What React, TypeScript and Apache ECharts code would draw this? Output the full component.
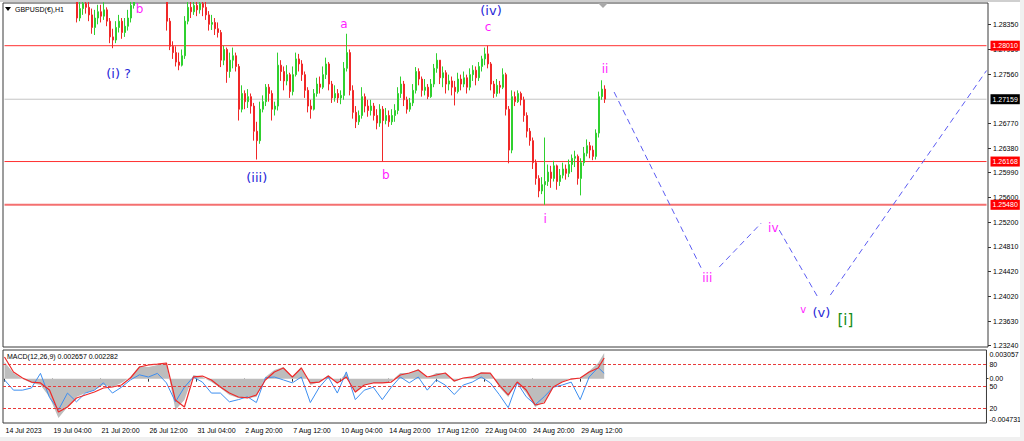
import React, { useEffect, useRef } from "react";
import * as echarts from "echarts";

// ---------- data ----------
const firstOpen = 1.31;
const closes = [
  1.3110,1.3125,1.3095,1.3085,1.3070,1.3062,1.3080,1.3098,1.3120,1.3135,
  1.3112,1.3085,1.3045,1.3012,1.3030,1.3040,1.3000,1.2950,1.2935,1.2942,
  1.2925,1.2905,1.2892,1.2880,1.2845,1.2860,1.2868,1.2862,1.2850,1.2830,
  1.2845,1.2855,1.2848,1.2858,1.2840,1.2815,1.2810,1.2830,1.2840,1.2822,
  1.2832,1.2845,1.2865,1.2890,1.2905,1.2920,1.2900,1.2912,1.2935,1.2950,
  1.2972,1.2962,1.2945,1.2930,1.2840,1.2800,1.2790,1.2775,1.2770,1.2785,
  1.2840,1.2862,1.2855,1.2865,1.2858,1.2868,1.2862,1.2850,1.2835,1.2838,
  1.2828,1.2822,1.2778,1.2795,1.2760,1.2778,1.2785,1.2768,1.2700,1.2725,
  1.2712,1.2720,1.2705,1.2665,1.2650,1.2700,1.2712,1.2735,1.2725,1.2700,
  1.2705,1.2770,1.2760,1.2745,1.2755,1.2728,1.2755,1.2780,1.2772,1.2755,
  1.2730,1.2705,1.2700,1.2725,1.2740,1.2735,1.2755,1.2772,1.2740,1.2718,
  1.2725,1.2718,1.2722,1.2765,1.2790,1.2730,1.2695,1.2680,1.2690,1.2720,
  1.2705,1.2698,1.2705,1.2690,1.2678,1.2700,1.2682,1.2690,1.2680,1.2690,
  1.2698,1.2725,1.2740,1.2715,1.2700,1.2710,1.2730,1.2760,1.2748,1.2730,
  1.2735,1.2720,1.2740,1.2765,1.2778,1.2750,1.2758,1.2740,1.2745,1.2735,
  1.2728,1.2748,1.2740,1.2750,1.2735,1.2755,1.2762,1.2750,1.2768,1.2780,
  1.2788,1.2772,1.2740,1.2725,1.2738,1.2735,1.2755,1.2700,1.2635,1.2720,
  1.2712,1.2725,1.2715,1.2690,1.2665,1.2650,1.2615,1.2590,1.2570,1.2580,
  1.2585,1.2600,1.2590,1.2610,1.2585,1.2595,1.2605,1.2598,1.2612,1.2622,
  1.2625,1.2590,1.2615,1.2630,1.2642,1.2635,1.2625,1.2662,1.2720,1.2732,
  1.2716,
];
const highs = [
  1.3125,1.3135,1.3128,1.3100,1.3090,1.3078,1.3088,1.3105,1.3128,1.3142,
  1.3138,1.3115,1.3090,1.3050,1.3040,1.3052,1.3045,1.3005,1.2960,1.2955,
  1.2948,1.2930,1.2910,1.2898,1.2882,1.2875,1.2885,1.2880,1.2872,1.2860,
  1.2858,1.2866,1.2866,1.2870,1.2862,1.2845,1.2828,1.2840,1.2850,1.2845,
  1.2845,1.2858,1.2875,1.2905,1.2918,1.2932,1.2925,1.2920,1.2945,1.2962,
  1.2985,1.2980,1.2968,1.2950,1.2935,1.2845,1.2808,1.2800,1.2790,1.2795,
  1.2848,1.2880,1.2878,1.2885,1.2880,1.2885,1.2882,1.2878,1.2856,1.2850,
  1.2845,1.2838,1.2826,1.2801,1.2798,1.2790,1.2798,1.2790,1.2772,1.2738,
  1.2730,1.2732,1.2725,1.2710,1.2680,1.2712,1.2722,1.2740,1.2740,1.2730,
  1.2712,1.2790,1.2778,1.2768,1.2770,1.2758,1.2768,1.2790,1.2788,1.2778,
  1.2760,1.2735,1.2715,1.2732,1.2750,1.2752,1.2768,1.2782,1.2775,1.2745,
  1.2738,1.2732,1.2730,1.2775,1.2820,1.2795,1.2738,1.2705,1.2698,1.2735,
  1.2725,1.2715,1.2715,1.2710,1.2700,1.2708,1.2705,1.2702,1.2698,1.2700,
  1.2708,1.2735,1.2752,1.2745,1.2720,1.2718,1.2740,1.2767,1.2765,1.2752,
  1.2748,1.2740,1.2748,1.2772,1.2789,1.2778,1.2768,1.2762,1.2755,1.2752,
  1.2745,1.2758,1.2755,1.2760,1.2755,1.2765,1.2770,1.2768,1.2775,1.2785,
  1.2798,1.2801,1.2775,1.2745,1.2748,1.2745,1.2765,1.2758,1.2705,1.2730,
  1.2728,1.2730,1.2728,1.2720,1.2695,1.2670,1.2655,1.2620,1.2595,1.2592,
  1.2655,1.2612,1.2610,1.2618,1.2612,1.2605,1.2615,1.2612,1.2620,1.2628,
  1.2634,1.2628,1.2622,1.2640,1.2652,1.2648,1.2642,1.2668,1.2728,1.2746,
  1.2738,
];
const lows = [
  1.3095,1.3102,1.3088,1.3075,1.3060,1.3050,1.3058,1.3075,1.3092,1.3115,
  1.3105,1.3078,1.3040,1.3002,1.3005,1.3025,1.2990,1.2940,1.2915,1.2925,
  1.2912,1.2895,1.2878,1.2872,1.2838,1.2840,1.2850,1.2852,1.2840,1.2820,
  1.2818,1.2835,1.2838,1.2842,1.2832,1.2805,1.2797,1.2805,1.2822,1.2812,
  1.2815,1.2825,1.2838,1.2860,1.2885,1.2898,1.2892,1.2890,1.2905,1.2925,
  1.2940,1.2950,1.2935,1.2920,1.2825,1.2794,1.2780,1.2768,1.2762,1.2768,
  1.2780,1.2835,1.2845,1.2850,1.2848,1.2852,1.2848,1.2842,1.2825,1.2826,
  1.2818,1.2814,1.2767,1.2770,1.2742,1.2750,1.2765,1.2760,1.2682,1.2695,
  1.2700,1.2702,1.2693,1.2650,1.2620,1.2645,1.2695,1.2705,1.2712,1.2682,
  1.2690,1.2698,1.2745,1.2730,1.2738,1.2718,1.2722,1.2752,1.2760,1.2745,
  1.2718,1.2695,1.2685,1.2698,1.2720,1.2725,1.2732,1.2748,1.2730,1.2710,
  1.2712,1.2710,1.2708,1.2715,1.2760,1.2722,1.2685,1.2670,1.2675,1.2685,
  1.2695,1.2688,1.2690,1.2682,1.2668,1.2672,1.2617,1.2676,1.2672,1.2675,
  1.2680,1.2692,1.2718,1.2705,1.2693,1.2696,1.2705,1.2725,1.2738,1.2720,
  1.2722,1.2716,1.2718,1.2735,1.2758,1.2740,1.2735,1.2725,1.2730,1.2722,
  1.2706,1.2725,1.2730,1.2735,1.2725,1.2730,1.2745,1.2738,1.2745,1.2760,
  1.2770,1.2765,1.2730,1.2718,1.2720,1.2725,1.2732,1.2690,1.2614,1.2630,
  1.2705,1.2710,1.2706,1.2680,1.2655,1.2642,1.2605,1.2580,1.2560,1.2565,
  1.2548,1.2578,1.2575,1.2585,1.2572,1.2578,1.2590,1.2588,1.2592,1.2600,
  1.2608,1.2580,1.2563,1.2610,1.2625,1.2622,1.2619,1.2620,1.2655,1.2715,
  1.2710,
];

const dateTicks = [
  "14 Jul 2023", "19 Jul 04:00", "21 Jul 20:00", "26 Jul 12:00", "31 Jul 04:00",
  "2 Aug 20:00", "7 Aug 12:00", "10 Aug 04:00", "14 Aug 20:00", "17 Aug 12:00",
  "22 Aug 04:00", "24 Aug 20:00", "29 Aug 12:00",
];
const BARS_PER_TICK = 16;
const TOTAL_SLOTS = 328;

const priceTicks = [1.2835, 1.2795, 1.2756, 1.2677, 1.2638, 1.2599, 1.256, 1.252, 1.2481, 1.2442, 1.2402, 1.2363, 1.2324];
const PRICE_MIN = 1.23219;
const PRICE_MAX = 1.28689;
const levelPrices = [1.2801, 1.26168, 1.2548];
const lastPrice = 1.27159;

const projIdx = [203, 232, 238, 252, 258, 271, 275, 327];
const projPrice = [1.27273, 1.24474, 1.2449, 1.2519, 1.25078, 1.23997, 1.24045, 1.27614];

const waveTexts = ["b", "(i) ?", "a", "(iii)", "b", "(iv)", "c", "i", "ii", "iii", "iv", "v", "(v)", "[i]"];
const waveIdx = [45, 38, 113, 84, 127, 162, 161, 180, 200, 234, 256, 266, 272, 280];
const wavePrices = [1.28593, 1.27575, 1.28355, 1.25921, 1.25953, 1.28577, 1.28307, 1.2526, 1.27639, 1.24315, 1.2511, 1.23822, 1.23774, 1.23647];
const waveDegree = ["minor", "major", "minor", "major", "minor", "major", "minor", "minor", "minor", "minor", "minor", "small", "major", "primary"];

const MACD_STEP = 3;
const macdHist = [
  0.00178,0.00060,-0.00004,-0.00046,-0.00068,-0.00196,-0.00420,-0.00302,-0.00196,-0.00153,
  -0.00121,-0.00068,-0.00089,-0.00046,0.00018,0.00135,0.00124,0.00146,0.00167,-0.00334,
  -0.00228,0.00039,0.00018,-0.00036,-0.00100,-0.00174,-0.00206,-0.00206,-0.00196,0.00018,
  0.00092,0.00124,0.00018,0.00124,-0.00068,-0.00036,0.00039,-0.00046,0.00060,-0.00153,
  -0.00068,-0.00046,-0.00046,-0.00025,0.00060,0.00060,0.00103,0.00007,0.00060,0.00060,
  -0.00036,0.00007,0.00018,0.00071,0.00060,-0.00089,-0.00196,-0.00036,-0.00153,-0.00302,
  -0.00249,-0.00089,-0.00036,0.00007,0.00007,0.00082,0.00167,0.00274,
];
const macdSignal = [
  0.00231,0.00071,0.00007,-0.00036,-0.00046,-0.00121,-0.00356,-0.00302,-0.00206,-0.00174,
  -0.00142,-0.00100,-0.00089,-0.00068,0.00007,0.00124,0.00146,0.00156,0.00167,-0.00228,
  -0.00302,0.00018,0.00028,-0.00014,-0.00089,-0.00153,-0.00196,-0.00206,-0.00174,-0.00014,
  0.00071,0.00114,0.00018,0.00114,-0.00046,-0.00036,0.00028,-0.00046,0.00018,-0.00142,
  -0.00068,-0.00046,-0.00046,-0.00036,0.00039,0.00060,0.00092,0.00018,0.00039,0.00060,
  -0.00025,0.00007,0.00018,0.00060,0.00060,-0.00068,-0.00174,-0.00036,-0.00121,-0.00281,
  -0.00260,-0.00089,-0.00036,-0.00004,0.00007,0.00071,0.00114,0.00220,
];
const oscValues = [
  59,45,45,48,68,35,18,41,29,41,
  45,55,41,49,59,66,63,68,55,29,
  49,63,56,41,41,29,32,36,28,62,
  63,59,55,63,28,49,63,41,70,32,
  45,49,32,49,63,55,63,45,59,52,
  39,52,56,63,55,39,21,55,36,25,
  36,49,52,56,32,63,76,68,
];
const MACD_MAX = 0.003057;
const MACD_MIN = -0.004731;
const oscLevels = [80, 50, 20];

// ---------- styles ----------
const SMALL_FONT = "'Liberation Sans', Arial, sans-serif";
const WAVE_FONT = "'DejaVu Sans', sans-serif";
const LEVEL_RED = "#ff3030";
const degreeStyle: Record<string, { color: string; size: number }> = {
  minor: { color: "#ff1eff", size: 12 },
  small: { color: "#ff1eff", size: 10 },
  major: { color: "#2828d8", size: 13 },
  primary: { color: "#168c16", size: 15 },
};

function buildOption() {
  const slots = Array.from({ length: TOTAL_SLOTS }, (_, i) => String(i));
  const candles = closes.map((c, i) => {
    const o = i === 0 ? firstOpen : closes[i - 1];
    return [o, c, Math.min(lows[i], o, c), Math.max(highs[i], o, c)];
  });
  const macdX = (i: number) => Math.min(i * MACD_STEP, closes.length - 1);
  const tickShown = (index: number) =>
    index % BARS_PER_TICK === 0 && index / BARS_PER_TICK < dateTicks.length;

  const projSeries = [0, 2, 4, 6].map((s) => ({
    type: "line",
    xAxisIndex: 0,
    yAxisIndex: 0,
    symbol: "none",
    silent: true,
    data: [
      [projIdx[s], projPrice[s]],
      [projIdx[s + 1], projPrice[s + 1]],
    ],
    lineStyle: { color: "#5c5cf2", width: 1, type: [6, 4] },
    z: 4,
  }));

  // horizontal level: a plain line across the whole grid, with a price tag at its end
  const levelSeries = (price: number, color: string, width: number, tagBg: string) => ({
    type: "line",
    xAxisIndex: 0,
    yAxisIndex: 0,
    symbol: "none",
    silent: true,
    data: [
      [0, price],
      [TOTAL_SLOTS - 1, price],
    ],
    color: color,
    lineStyle: { color: color, width: width, type: "solid" },
    z: 2,
    endLabel: {
      show: true,
      distance: 4,
      formatter: (p: any) => Number(p.value[1]).toFixed(5),
      color: "#ffffff",
      backgroundColor: tagBg,
      fontSize: 7,
      fontFamily: SMALL_FONT,
      padding: [2, 2, 1, 2],
    },
  });

  return {
    animation: false,
    backgroundColor: "#ffffff",
    grid: [
      { left: 3, top: 3, width: 985, height: 344, show: true, borderColor: "#3a3a3a", borderWidth: 1, backgroundColor: "#ffffff" },
      { left: 3, top: 350, width: 985, height: 73, show: true, borderColor: "#3a3a3a", borderWidth: 1, backgroundColor: "#ffffff" },
    ],
    xAxis: [
      { type: "category", gridIndex: 0, data: slots, boundaryGap: true, show: false },
      {
        type: "category",
        gridIndex: 1,
        data: slots,
        boundaryGap: true,
        axisLine: { show: false },
        splitLine: { show: false },
        axisTick: { show: true, interval: tickShown, alignWithLabel: true, length: 3, lineStyle: { color: "#333" } },
        axisLabel: {
          interval: tickShown,
          formatter: (_v: string, i: number) => dateTicks[i / BARS_PER_TICK] ?? "",
          align: "left",
          fontSize: 7,
          fontFamily: SMALL_FONT,
          color: "#000",
          margin: 4,
          padding: [0, 0, 0, 1],
        },
      },
    ],
    yAxis: [
      {
        type: "value",
        gridIndex: 0,
        position: "right",
        min: PRICE_MIN,
        max: PRICE_MAX,
        splitLine: { show: false },
        axisLine: { show: false },
        axisTick: { show: true, length: 3, customValues: priceTicks, lineStyle: { color: "#333" } },
        axisLabel: {
          customValues: priceTicks,
          formatter: (v: number) => v.toFixed(5),
          fontSize: 7,
          fontFamily: SMALL_FONT,
          color: "#000",
          margin: 5,
        },
      },
      {
        type: "value",
        gridIndex: 1,
        position: "right",
        min: MACD_MIN,
        max: MACD_MAX,
        splitLine: { show: false },
        axisLine: { show: false },
        axisTick: { show: true, length: 2, customValues: [0], lineStyle: { color: "#333" } },
        axisLabel: {
          customValues: [MACD_MAX, 0, MACD_MIN],
          formatter: (v: number) =>
            v === MACD_MAX ? "{t|" + v.toFixed(6) + "}" : v === MACD_MIN ? "{b|" + v.toFixed(6) + "}" : "0.00",
          rich: {
            t: { fontSize: 7, fontFamily: SMALL_FONT, color: "#000", padding: [8, 0, 0, 0] },
            b: { fontSize: 7, fontFamily: SMALL_FONT, color: "#000", padding: [0, 0, 8, 0] },
          },
          fontSize: 7,
          fontFamily: SMALL_FONT,
          color: "#000",
          margin: 3,
        },
      },
      {
        type: "value",
        gridIndex: 1,
        position: "right",
        min: 0,
        max: 100,
        splitLine: { show: false },
        axisLine: { show: false },
        axisTick: { show: false },
        axisLabel: {
          customValues: oscLevels,
          formatter: (v: number) => String(v),
          fontSize: 7,
          fontFamily: SMALL_FONT,
          color: "#000",
          margin: 3,
        },
      },
    ],
    graphic: [
      { type: "rect", z: 100, silent: true, shape: { x: 0, y: 0, width: 1024, height: 2 }, style: { fill: "#cfcfcf" } },
      { type: "rect", z: 100, silent: true, shape: { x: 0, y: 437, width: 1024, height: 4 }, style: { fill: "#f0f0f0" } },
      { type: "rect", z: 100, silent: true, shape: { x: 1020, y: 0, width: 4, height: 441 }, style: { fill: "#f0f0f0" } },
      { type: "polygon", z: 100, silent: true, shape: { points: [[5, 7], [11, 7], [8, 11]] }, style: { fill: "#000" } },
      { type: "polygon", z: 100, silent: true, shape: { points: [[598, 3], [608, 3], [603, 8]] }, style: { fill: "#a8a8a8" } },
      {
        type: "text", z: 100, silent: true, x: 15, y: 9,
        style: { text: "GBPUSD(€),H1", fill: "#000", fontSize: 7, fontFamily: SMALL_FONT, verticalAlign: "middle" },
      },
      {
        type: "text", z: 100, silent: true, x: 7, y: 356,
        style: { text: "MACD(12,26,9) 0.002657 0.002282", fill: "#000", fontSize: 7, fontFamily: SMALL_FONT, verticalAlign: "middle" },
      },
    ],
    series: [
      levelSeries(lastPrice, "#c4c4c4", 1, "#000000"),
      levelSeries(levelPrices[0], LEVEL_RED, 1, "#ff0000"),
      levelSeries(levelPrices[1], LEVEL_RED, 1, "#ff0000"),
      levelSeries(levelPrices[2], "#f47070", 2, "#ff0000"),
      {
        type: "candlestick",
        xAxisIndex: 0,
        yAxisIndex: 0,
        data: candles,
        barWidth: 1.4,
        clip: true,
        itemStyle: {
          color: "#2fd02f",
          color0: "#f02828",
          borderColor: "#2fd02f",
          borderColor0: "#f02828",
          borderWidth: 1,
        },
        z: 3,
      },
      ...projSeries,
      {
        type: "scatter",
        xAxisIndex: 0,
        yAxisIndex: 0,
        symbolSize: 0,
        silent: true,
        z: 6,
        itemStyle: { opacity: 1 },
        data: waveTexts.map((t, i) => {
          const st = degreeStyle[waveDegree[i]];
          return {
            value: [waveIdx[i], wavePrices[i]],
            label: {
              show: true,
              position: "inside",
              formatter: t,
              color: st.color,
              opacity: 1,
              textBorderWidth: 0,
              fontSize: st.size,
              fontFamily: WAVE_FONT,
            },
          };
        }),
      },
      {
        type: "line",
        xAxisIndex: 1,
        yAxisIndex: 1,
        symbol: "none",
        silent: true,
        data: macdHist.map((v, i) => [macdX(i), v]),
        lineStyle: { width: 0, color: "#bdbdbd" },
        areaStyle: { color: "#bdbdbd", opacity: 1 },
        z: 2,
      },
      {
        type: "line",
        xAxisIndex: 1,
        yAxisIndex: 2,
        symbol: "none",
        silent: true,
        data: oscValues.map((v, i) => [macdX(i), v]),
        lineStyle: { width: 1, color: "#3d8ef0" },
        markLine: {
          silent: true,
          symbol: ["none", "none"],
          label: { show: false },
          lineStyle: { color: "#e83a3a", width: 1, type: [3, 2] },
          data: oscLevels.map((v) => ({ yAxis: v })),
        },
        z: 3,
      },
      {
        type: "line",
        xAxisIndex: 1,
        yAxisIndex: 1,
        symbol: "none",
        silent: true,
        data: macdSignal.map((v, i) => [macdX(i), v]),
        lineStyle: { width: 1.2, color: "#ee2a2a" },
        z: 4,
      },
    ],
  };
}

export default function App() {
  const ref = useRef<HTMLDivElement>(null);
  useEffect(() => {
    if (!ref.current) return;
    const chart = echarts.init(ref.current, null, { renderer: "svg" });
    chart.setOption(buildOption() as any);
    return () => chart.dispose();
  }, []);
  return (
    <div
      ref={ref}
      style={{ position: "absolute", left: 0, top: 0, width: 1024, height: 441, background: "#ffffff" }}
    />
  );
}
